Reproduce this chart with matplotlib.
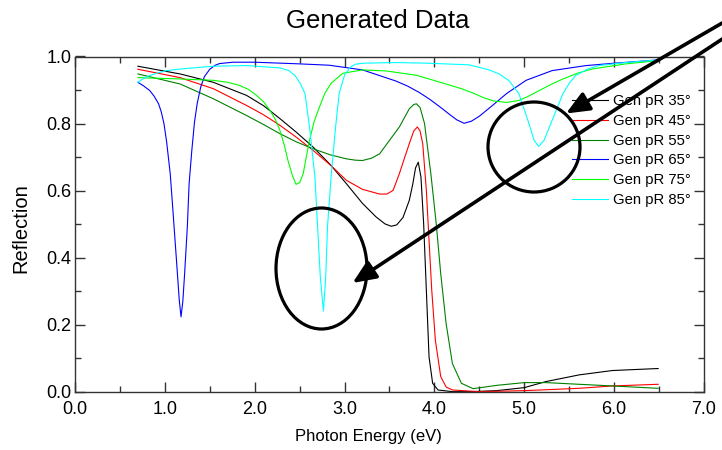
import matplotlib
matplotlib.use('Agg')
import matplotlib.pyplot as plt
from matplotlib.patches import Ellipse, FancyArrowPatch
from matplotlib.ticker import MultipleLocator, FormatStrFormatter

plt.rcParams['font.family'] = ['Liberation Sans', 'DejaVu Sans']

# photon energy (eV) / reflection
e35 = [0.70, 1.17, 1.54, 1.91, 2.10, 2.28, 2.46, 2.65, 2.84, 3.02, 3.20, 3.35, 3.45, 3.52, 3.58, 3.65,
       3.72, 3.76, 3.79, 3.82, 3.85, 3.88, 3.91, 3.94, 3.98, 4.04, 4.20, 4.40, 4.69, 5.00, 5.24, 5.61,
       5.98, 6.49]
r35 = [0.971, 0.948, 0.923, 0.884, 0.853, 0.815, 0.775, 0.730, 0.678, 0.621, 0.562, 0.522, 0.501, 0.494,
       0.498, 0.520, 0.571, 0.621, 0.668, 0.685, 0.641, 0.502, 0.304, 0.105, 0.026, 0.006, 0.001, 0.001,
       0.004, 0.013, 0.031, 0.051, 0.064, 0.070]

e45 = [0.70, 1.17, 1.54, 1.91, 2.10, 2.28, 2.46, 2.65, 2.84, 3.02, 3.20, 3.39, 3.47, 3.54, 3.61, 3.67,
       3.72, 3.77, 3.81, 3.84, 3.87, 3.91, 3.94, 3.97, 4.01, 4.07, 4.13, 4.20, 4.50, 5.00, 5.61, 5.98, 6.49]
r45 = [0.962, 0.937, 0.904, 0.854, 0.826, 0.795, 0.760, 0.720, 0.677, 0.631, 0.604, 0.590, 0.590, 0.601,
       0.651, 0.700, 0.740, 0.778, 0.790, 0.778, 0.740, 0.601, 0.452, 0.304, 0.155, 0.046, 0.015, 0.006,
       0.001, 0.004, 0.011, 0.018, 0.023]

e55 = [0.70, 1.17, 1.54, 1.91, 2.10, 2.28, 2.46, 2.65, 2.84, 3.02, 3.12, 3.20, 3.30, 3.39, 3.50, 3.61,
       3.72, 3.77, 3.80, 3.84, 3.89, 3.96, 4.02, 4.07, 4.13, 4.20, 4.30, 4.43, 4.70, 5.00, 5.24, 5.61,
       5.98, 6.49]
r55 = [0.948, 0.918, 0.874, 0.824, 0.797, 0.770, 0.746, 0.725, 0.707, 0.695, 0.691, 0.690, 0.697, 0.710,
       0.750, 0.790, 0.844, 0.857, 0.859, 0.848, 0.800, 0.651, 0.502, 0.353, 0.204, 0.085, 0.026, 0.010,
       0.020, 0.028, 0.028, 0.023, 0.018, 0.011]

e65 = [0.70, 0.76, 0.83, 0.88, 0.93, 0.96, 0.99, 1.02, 1.06, 1.09, 1.13, 1.16, 1.18, 1.20, 1.22, 1.25,
       1.27, 1.30, 1.33, 1.36, 1.40, 1.44, 1.50, 1.56, 1.61, 1.76, 2.00, 2.50, 2.83, 3.20, 3.57, 3.70,
       3.83, 3.95, 4.08, 4.17, 4.25, 4.33, 4.41, 4.50, 4.65, 4.80, 5.02, 5.31, 5.69, 6.00, 6.50]
r65 = [0.923, 0.913, 0.899, 0.882, 0.859, 0.835, 0.800, 0.745, 0.650, 0.540, 0.390, 0.275, 0.224, 0.270,
       0.353, 0.492, 0.621, 0.720, 0.805, 0.860, 0.910, 0.940, 0.962, 0.974, 0.979, 0.983, 0.983, 0.978,
       0.974, 0.960, 0.927, 0.912, 0.893, 0.872, 0.846, 0.827, 0.811, 0.801, 0.807, 0.822, 0.855, 0.889,
       0.929, 0.958, 0.973, 0.980, 0.990]

e75 = [0.70, 1.17, 1.54, 1.70, 1.83, 1.93, 2.02, 2.10, 2.17, 2.23, 2.28, 2.33, 2.37, 2.42, 2.46, 2.50,
       2.54, 2.57, 2.61, 2.66, 2.72, 2.78, 2.85, 2.98, 3.20, 3.46, 3.80, 4.13, 4.30, 4.43, 4.55, 4.65,
       4.80, 4.94, 5.05, 5.17, 5.30, 5.43, 5.60, 5.76, 6.13, 6.50]
r75 = [0.937, 0.933, 0.929, 0.923, 0.914, 0.902, 0.884, 0.865, 0.839, 0.812, 0.780, 0.735, 0.690, 0.645,
       0.619, 0.624, 0.651, 0.695, 0.750, 0.805, 0.849, 0.890, 0.920, 0.950, 0.960, 0.957, 0.944, 0.918,
       0.904, 0.891, 0.877, 0.868, 0.863, 0.869, 0.882, 0.899, 0.917, 0.933, 0.951, 0.963, 0.978, 0.988]

e85 = [0.70, 0.76, 0.83, 0.92, 1.02, 1.15, 1.31, 1.54, 1.91, 2.28, 2.38, 2.45, 2.51, 2.56, 2.61, 2.67,
       2.70, 2.73, 2.765, 2.79, 2.81, 2.85, 2.90, 2.94, 3.00, 3.06, 3.12, 3.20, 3.57, 3.94, 4.39, 4.61,
       4.72, 4.83, 4.94, 5.04, 5.11, 5.16, 5.22, 5.31, 5.43, 5.50, 5.57, 5.70, 5.83, 6.13, 6.50]
r85 = [0.923, 0.934, 0.943, 0.951, 0.958, 0.962, 0.966, 0.971, 0.973, 0.966, 0.958, 0.943, 0.918, 0.889,
       0.790, 0.641, 0.492, 0.343, 0.241, 0.343, 0.492, 0.641, 0.790, 0.890, 0.945, 0.967, 0.977, 0.980,
       0.982, 0.980, 0.975, 0.960, 0.948, 0.928, 0.889, 0.810, 0.750, 0.732, 0.750, 0.810, 0.889, 0.920,
       0.943, 0.962, 0.973, 0.982, 0.990]

series = [(e35, r35, 'Gen pR 35°', 'black'),
          (e45, r45, 'Gen pR 45°', '#ff0000'),
          (e55, r55, 'Gen pR 55°', '#008000'),
          (e65, r65, 'Gen pR 65°', '#0000ff'),
          (e75, r75, 'Gen pR 75°', '#00ff00'),
          (e85, r85, 'Gen pR 85°', '#00ffff')]

W, H = 722, 450
fig = plt.figure(figsize=(W / 100, H / 100), dpi=100)
ax = fig.add_axes([75 / W, 1 - 392 / H, 629 / W, 335.5 / H])

for e, r, lab, c in series:
    ax.plot(e, r, color=c, lw=0.8, label=lab)

ax.set_xlim(0, 7)
ax.set_ylim(0, 1)
ax.xaxis.set_major_locator(MultipleLocator(1))
ax.xaxis.set_minor_locator(MultipleLocator(0.5))
ax.yaxis.set_major_locator(MultipleLocator(0.2))
ax.yaxis.set_minor_locator(MultipleLocator(0.1))
ax.xaxis.set_major_formatter(FormatStrFormatter('%.1f'))
ax.yaxis.set_major_formatter(FormatStrFormatter('%.1f'))
ax.tick_params(which='both', direction='in', top=True, right=True, color='#333333', width=1, labelsize=13)
ax.tick_params(which='major', length=7.5)
ax.tick_params(which='minor', length=4.5)
ax.tick_params(axis='x', pad=6.5)
ax.tick_params(axis='y', pad=2.5)
for s in ax.spines.values():
    s.set_color('#333333')
    s.set_linewidth(1)

ax.set_xlabel('Photon Energy (eV)', fontsize=12, va='center')
ax.xaxis.set_label_coords(0.466, -0.134)
ax.set_ylabel('Reflection', fontsize=14.5, va='center')
ax.yaxis.set_label_coords(-0.086, 0.489)
fig.text(378 / W, 1 - 21.5 / H, 'Generated Data', fontsize=18.5, ha='center', va='center')

ax.legend(loc='upper left', bbox_to_anchor=(571.5 / W, 1 - 94.5 / H), bbox_transform=fig.transFigure,
          frameon=False, fontsize=10.7, handlelength=2.45, handletextpad=0.35, labelspacing=0.38,
          borderpad=0, borderaxespad=0)


def fx(px, py):
    return (px / W, 1 - py / H)


# annotation circles and arrows
for cx, cy, w, h in [(321.5, 268.5, 91, 121), (534, 147, 92, 90)]:
    fig.add_artist(Ellipse(fx(cx, cy), w / W, h / H, transform=fig.transFigure, fill=False,
                           ec='black', lw=2.3, clip_on=False))

for x0, y0, x1, y1 in [(740, 12.7, 566, 113.5), (740, 27.3, 352.5, 283)]:
    fig.add_artist(FancyArrowPatch(fx(x0, y0), fx(x1, y1), transform=fig.transFigure,
                                   arrowstyle='-|>,head_length=14,head_width=6', mutation_scale=1,
                                   lw=2.6, color='black', shrinkA=0, shrinkB=0, clip_on=False))

fig.savefig('out.png', dpi=100)
